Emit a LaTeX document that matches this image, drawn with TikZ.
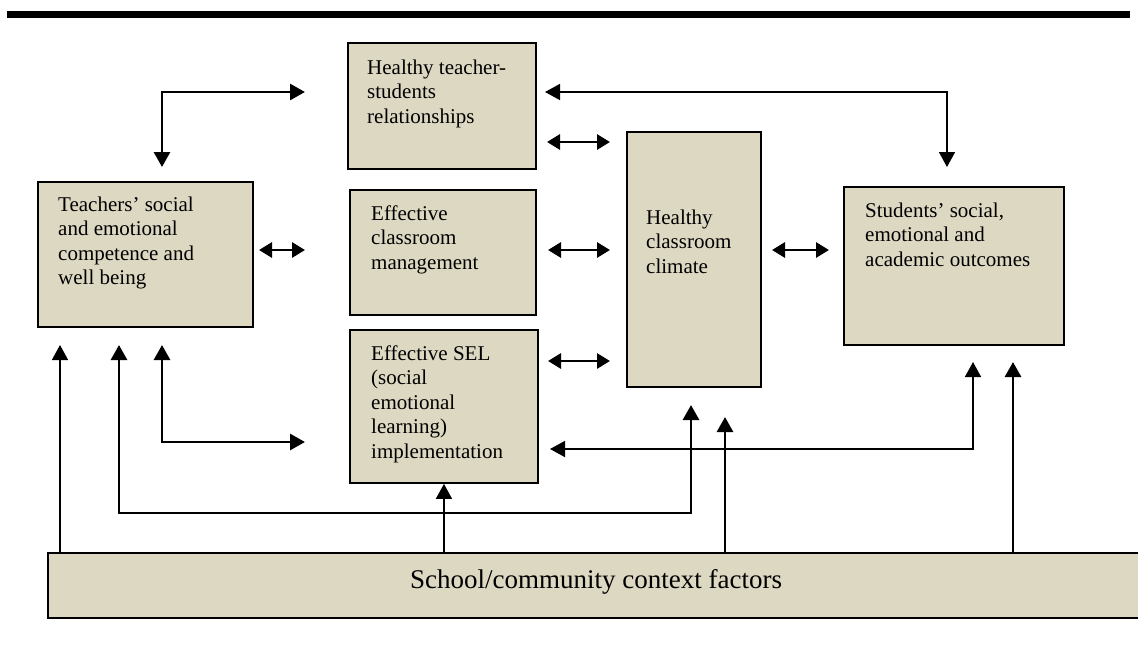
\documentclass[tikz,border=0pt]{standalone}
\usepackage{fontspec}
\setmainfont{Liberation Serif}
\usetikzlibrary{arrows.meta}
\definecolor{boxfill}{RGB}{221,216,194}
\begin{document}
\begin{tikzpicture}[x=1pt,y=-1pt,
  box/.style={draw=black,line width=1.9pt,fill=boxfill,inner sep=0pt,anchor=north west},
  txt/.style={anchor=base west,align=left,inner sep=0pt,font=\fontsize{21}{24.5}\selectfont},
  tip/.style={-{Triangle[length=15pt,width=16pt]}},
  thickc/.style={line width=2.9pt,tip},
  thinc/.style={line width=1.6pt,tip},
  both/.style={{Triangle[length=15pt,width=16pt]}-{Triangle[length=15pt,width=16pt]}},
  dbl/.style={line width=2.9pt,{Triangle[length=13pt,width=15pt]}-{Triangle[length=13pt,width=15pt]}}]
\useasboundingbox (0,0) rectangle (1138,646);
% top rule
\fill[black] (7,10.5) rectangle (1130,17.5);
% boxes
\node[box,minimum width=188pt,minimum height=126pt] (ht) at (347,42) {};
\node[box,minimum width=215pt,minimum height=145pt] (teach) at (37,181) {};
\node[box,minimum width=186pt,minimum height=125pt] (ecm) at (349,189) {};
\node[box,minimum width=188pt,minimum height=153pt] (sel) at (349,329) {};
\node[box,minimum width=134pt,minimum height=255pt] (clim) at (626,131) {};
\node[box,minimum width=220pt,minimum height=158pt] (stud) at (843,186) {};
\node[box,minimum width=1100pt,minimum height=65pt] (school) at (47,552) {};
% texts (base = baseline of last line)
\node[txt] (htt) at (367,123) {Healthy teacher-\\students\\relationships};
\node[txt] (teacht) at (58,284.5) {Teachers' social\\and emotional\\competence and\\well being};
\node[txt] (ecmt) at (371,269) {Effective\\classroom\\management};
\node[txt] (selt) at (371,458) {Effective SEL\\(social\\emotional\\learning)\\implementation};
\node[txt] (climt) at (646,273) {Healthy\\classroom\\climate};
\node[txt] (studt) at (865,266) {Students' social,\\emotional and\\academic outcomes};
\node[anchor=base west,inner sep=0pt,font=\fontsize{27}{30}\selectfont] (schoolt) at (410,588) {School/community context factors};
% connector end points
\coordinate (c1a) at (162,167);
\coordinate (c1b) at (305,92);
\coordinate (c2a) at (545,92);
\coordinate (c2b) at (947,167);
\coordinate (d1a) at (547,142); \coordinate (d1b) at (610,142);
\coordinate (d2a) at (259,250); \coordinate (d2b) at (305,250);
\coordinate (d3a) at (548,250); \coordinate (d3b) at (610,250);
\coordinate (d4a) at (772,250); \coordinate (d4b) at (829,250);
\coordinate (d5a) at (548,361); \coordinate (d5b) at (610,361);
\coordinate (u1) at (60,345);
\coordinate (u2) at (119,345);
\coordinate (u3) at (162,345);
\coordinate (u3b) at (162,442);
\coordinate (u3c) at (305,442);
\coordinate (u2b) at (119,513);
\coordinate (u2c) at (691,405);
\coordinate (u5) at (725,417);
\coordinate (u6) at (1013,362);
\coordinate (u7a) at (550,449);
\coordinate (u7b) at (973,362);
% connectors
\draw[thickc,both] (c1a) |- (c1b);
\draw[thinc,both] (c2a) -| (c2b);
\draw[dbl] (d1a) -- (d1b);
\draw[dbl] (d2a) -- (d2b);
\draw[dbl] (d3a) -- (d3b);
\draw[dbl] (d4a) -- (d4b);
\draw[dbl] (d5a) -- (d5b);
\draw[thinc] (school.north west -| u1) -- (u1);
\draw[thickc,both] (u3) -- (u3b) -- (u3c);
\draw[thickc,both] (u2) -- (u2b) -| (u2c);
\draw[thinc] (school.north west -| sel.south) -- (sel.south);
\draw[thickc] (school.north west -| u5) -- (u5);
\draw[thickc] (school.north west -| u6) -- (u6);
\draw[thinc,both] (u7a) -| (u7b);
\end{tikzpicture}
\end{document}
